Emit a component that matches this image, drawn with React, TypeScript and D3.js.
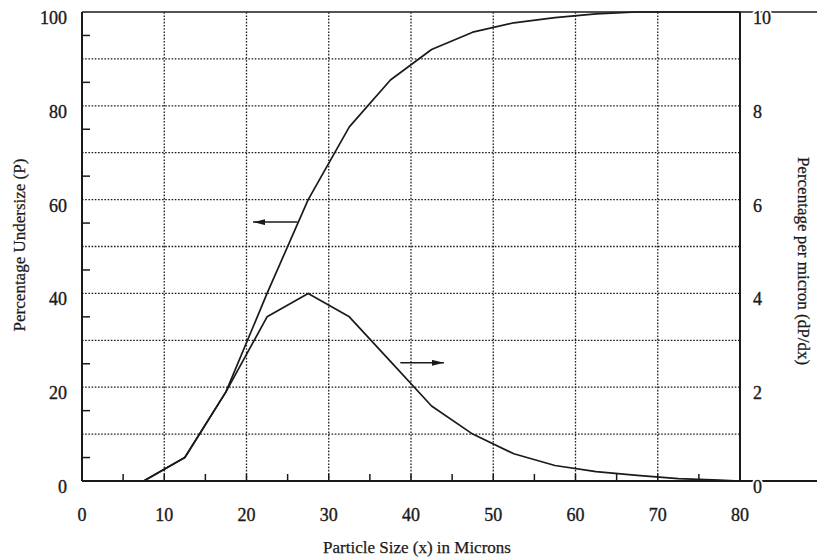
import * as d3 from 'd3';
import { useEffect, useRef } from 'react';

// particle size (microns) at which the curves were sampled
const sizes = [5, 7.5, 12.5, 17.5, 22.5, 27.5, 32.5, 37.5, 42.5, 47.5, 52.5, 57.5, 62.5, 67.5, 72.5, 77.5, 80];
// cumulative percentage undersize (left axis)
const undersize = [0, 0, 5, 19, 40, 60, 75.5, 85.5, 92, 95.7, 97.7, 98.8, 99.6, 100, 100, 100, 100];
// percentage per micron (right axis)
const perMicron = [0, 0, 0.5, 1.9, 3.5, 4.0, 3.5, 2.55, 1.6, 1.0, 0.58, 0.33, 0.2, 0.12, 0.05, 0.02, 0];

const xTicks = [0, 10, 20, 30, 40, 50, 60, 70, 80];
const leftTicks = [0, 20, 40, 60, 80, 100];
const rightTicks = [0, 2, 4, 6, 8, 10];

const W = 817;
const H = 557;
const FONT = '"Liberation Serif", "Times New Roman", serif';
const INK = '#1a1a1a';

export default function App() {
  const ref = useRef<SVGSVGElement>(null);

  useEffect(() => {
    const svg = d3.select(ref.current);
    svg.selectAll('*').remove();

    const x = d3.scaleLinear().domain([0, 80]).range([82, 740]);
    const yL = d3.scaleLinear().domain([0, 100]).range([481, 12]);
    const yR = d3.scaleLinear().domain([0, 10]).range([481, 12]);

    svg.append('rect').attr('width', W).attr('height', H).attr('fill', '#fff');

    const defs = svg.append('defs');
    defs.append('marker')
      .attr('id', 'arrowhead')
      .attr('viewBox', '0 0 12 6')
      .attr('refX', 12)
      .attr('refY', 3)
      .attr('markerWidth', 12)
      .attr('markerHeight', 6)
      .attr('markerUnits', 'userSpaceOnUse')
      .attr('orient', 'auto')
      .append('path')
      .attr('d', 'M0,0 L12,3 L0,6 Z')
      .attr('fill', INK);

    // dotted grid
    const grid = svg.append('g')
      .attr('stroke', INK)
      .attr('stroke-width', 1.3)
      .attr('stroke-dasharray', '1.6,1.6');
    grid.selectAll('line.v')
      .data(d3.range(10, 80, 10))
      .enter()
      .append('line')
      .attr('x1', (d) => x(d))
      .attr('x2', (d) => x(d))
      .attr('y1', yL(0))
      .attr('y2', yL(100));
    grid.selectAll('line.h')
      .data(d3.range(10, 100, 10))
      .enter()
      .append('line')
      .attr('x1', x(0))
      .attr('x2', x(80))
      .attr('y1', (d) => yL(d))
      .attr('y2', (d) => yL(d));

    // frame
    const frame = svg.append('g').attr('stroke', INK).attr('fill', 'none');
    frame.append('line').attr('x1', x(0)).attr('x2', x(0)).attr('y1', yL(0)).attr('y2', yL(100)).attr('stroke-width', 2);
    frame.append('line').attr('x1', x(80)).attr('x2', x(80)).attr('y1', yL(0)).attr('y2', yL(100)).attr('stroke-width', 2);
    frame.append('line').attr('x1', x(0)).attr('x2', W).attr('y1', yL(0)).attr('y2', yL(0)).attr('stroke-width', 2);
    frame.append('line').attr('x1', x(0)).attr('x2', W).attr('y1', yL(100)).attr('y2', yL(100)).attr('stroke-width', 1.6);

    // minor ticks on the left axis (inward)
    frame.selectAll('line.lt')
      .data(d3.range(5, 100, 10))
      .enter()
      .append('line')
      .attr('x1', x(0))
      .attr('x2', x(0) + 8)
      .attr('y1', (d) => yL(d))
      .attr('y2', (d) => yL(d))
      .attr('stroke-width', 1.5);

    // ticks on the bottom axis (upward)
    frame.selectAll('line.bt')
      .data(d3.range(5, 80, 5))
      .enter()
      .append('line')
      .attr('x1', (d) => x(d))
      .attr('x2', (d) => x(d))
      .attr('y1', yL(0))
      .attr('y2', yL(0) - 7)
      .attr('stroke-width', 1.5);

    // curves
    const lineL = d3.line<number>()
      .x((_, i) => x(sizes[i]))
      .y((d) => yL(d));
    const lineR = d3.line<number>()
      .x((_, i) => x(sizes[i]))
      .y((d) => yR(d));

    svg.append('path')
      .attr('d', lineL(undersize))
      .attr('fill', 'none')
      .attr('stroke', INK)
      .attr('stroke-width', 1.7)
      .attr('stroke-linejoin', 'round');
    svg.append('path')
      .attr('d', lineR(perMicron))
      .attr('fill', 'none')
      .attr('stroke', INK)
      .attr('stroke-width', 1.7)
      .attr('stroke-linejoin', 'round');

    // arrows pointing to the axis each curve belongs to
    svg.append('line')
      .attr('x1', x(26.2)).attr('x2', x(20.8))
      .attr('y1', yL(55.2)).attr('y2', yL(55.2))
      .attr('stroke', INK).attr('stroke-width', 1.5)
      .attr('marker-end', 'url(#arrowhead)');
    svg.append('line')
      .attr('x1', x(38.7)).attr('x2', x(44))
      .attr('y1', yL(25.2)).attr('y2', yL(25.2))
      .attr('stroke', INK).attr('stroke-width', 1.5)
      .attr('marker-end', 'url(#arrowhead)');

    // tick labels
    const labels = svg.append('g')
      .style('font-family', FONT)
      .style('font-size', '18px')
      .attr('fill', INK)
      .attr('stroke', INK)
      .attr('stroke-width', 0.35);

    labels.selectAll('text.x')
      .data(xTicks)
      .enter()
      .append('text')
      .attr('x', (d) => x(d))
      .attr('y', 521)
      .attr('text-anchor', 'middle')
      .text((d) => d);

    labels.selectAll('text.l')
      .data(leftTicks)
      .enter()
      .append('text')
      .attr('x', 67)
      .attr('y', (d) => yL(d) + 12)
      .attr('text-anchor', 'end')
      .text((d) => d);

    // white halo so the extended frame lines stop at the right-hand labels
    labels.selectAll('text.rh')
      .data(rightTicks)
      .enter()
      .append('text')
      .attr('x', 753)
      .attr('y', (d) => yR(d) + 12)
      .attr('fill', '#fff')
      .attr('stroke', '#fff')
      .attr('stroke-width', 4)
      .text((d) => d);

    labels.selectAll('text.r')
      .data(rightTicks)
      .enter()
      .append('text')
      .attr('x', 753)
      .attr('y', (d) => yR(d) + 12)
      .text((d) => d);

    // axis titles
    const titles = svg.append('g')
      .style('font-family', FONT)
      .style('font-size', '17px')
      .attr('fill', INK)
      .attr('stroke', INK)
      .attr('stroke-width', 0.25);

    titles.append('text')
      .attr('x', 417)
      .attr('y', 553)
      .attr('text-anchor', 'middle')
      .text('Particle Size (x) in Microns');

    titles.append('text')
      .attr('transform', 'translate(25,245) rotate(-90)')
      .attr('text-anchor', 'middle')
      .text('Percentage Undersize (P)');

    titles.append('text')
      .attr('transform', 'translate(798,261) rotate(90)')
      .attr('text-anchor', 'middle')
      .text('Percentage per micron (dP/dx)');
  }, []);

  return (
    <svg
      ref={ref}
      width={W}
      height={H}
      viewBox={`0 0 ${W} ${H}`}
      style={{ position: 'absolute', left: 0, top: 0, display: 'block' }}
    />
  );
}
